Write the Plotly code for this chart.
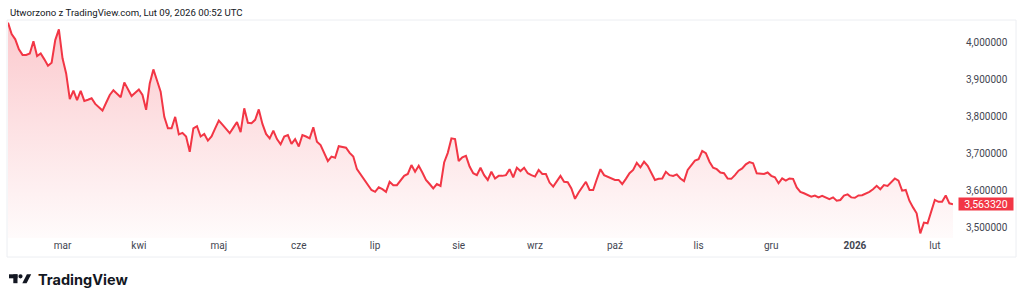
import pandas as pd
import plotly.graph_objects as go

# ---- data ----
start_date = "2025-02-10"
end_date = "2026-02-09"
values = [
    4.053, 4.022, 4.008, 3.981, 3.966, 3.966, 3.970, 4.003, 3.963, 3.970,
    3.954, 3.937, 3.945, 4.006, 4.035, 3.957, 3.916, 3.847, 3.870, 3.844,
    3.869, 3.842, 3.845, 3.849, 3.834, 3.826, 3.816, 3.837, 3.858, 3.871,
    3.862, 3.852, 3.892, 3.873, 3.855, 3.864, 3.873, 3.858, 3.818, 3.889,
    3.927, 3.897, 3.867, 3.799, 3.768, 3.768, 3.799, 3.752, 3.756, 3.746,
    3.705, 3.768, 3.774, 3.746, 3.753, 3.735, 3.746, 3.768, 3.789, 3.778,
    3.767, 3.755, 3.770, 3.785, 3.758, 3.822, 3.783, 3.782, 3.791, 3.819,
    3.780, 3.753, 3.741, 3.762, 3.739, 3.725, 3.746, 3.750, 3.726, 3.739,
    3.719, 3.750, 3.746, 3.741, 3.771, 3.732, 3.723, 3.701, 3.680, 3.692,
    3.689, 3.720, 3.718, 3.716, 3.702, 3.692, 3.658, 3.644, 3.627, 3.615,
    3.602, 3.597, 3.609, 3.604, 3.597, 3.624, 3.615, 3.615, 3.629, 3.640,
    3.645, 3.669, 3.651, 3.667, 3.649, 3.629, 3.618, 3.606, 3.618, 3.613,
    3.676, 3.702, 3.741, 3.739, 3.680, 3.690, 3.694, 3.665, 3.647, 3.642,
    3.662, 3.642, 3.629, 3.651, 3.633, 3.640, 3.640, 3.642, 3.658, 3.636,
    3.662, 3.653, 3.662, 3.647, 3.642, 3.638, 3.656, 3.645, 3.645, 3.622,
    3.611, 3.624, 3.640, 3.624, 3.623, 3.606, 3.578, 3.595, 3.611, 3.624,
    3.602, 3.602, 3.631, 3.658, 3.642, 3.638, 3.632, 3.629, 3.629, 3.618,
    3.632, 3.647, 3.656, 3.675, 3.663, 3.678, 3.667, 3.650, 3.629, 3.632,
    3.633, 3.651, 3.642, 3.640, 3.644, 3.633, 3.626, 3.656, 3.667, 3.681,
    3.685, 3.707, 3.701, 3.678, 3.662, 3.658, 3.649, 3.647, 3.633, 3.632,
    3.642, 3.654, 3.660, 3.671, 3.677, 3.674, 3.647, 3.647, 3.645, 3.649,
    3.640, 3.636, 3.620, 3.633, 3.627, 3.633, 3.632, 3.609, 3.597, 3.593,
    3.588, 3.584, 3.587, 3.582, 3.586, 3.581, 3.577, 3.582, 3.573, 3.575,
    3.587, 3.590, 3.582, 3.581, 3.587, 3.588, 3.592, 3.597, 3.604, 3.613,
    3.604, 3.615, 3.613, 3.624, 3.633, 3.627, 3.600, 3.602, 3.573, 3.555,
    3.539, 3.485, 3.514, 3.512, 3.546, 3.575, 3.570, 3.570, 3.587, 3.566,
    3.56332,
]
y_ticks = [3.5, 3.6, 3.7, 3.8, 3.9, 4.0]
month_labels = {1: None, 2: "lut", 3: "mar", 4: "kwi", 5: "maj", 6: "cze",
                7: "lip", 8: "sie", 9: "wrz", 10: "paź", 11: "lis", 12: "gru"}
title_text = "Utworzono z TradingView.com, Lut 09, 2026 00:52 UTC"
brand_text = "TradingView"

dates = pd.bdate_range(start_date, end_date)
s = pd.Series(values, index=dates)

# first trading day of each month (after the first month)
firsts = s.groupby([s.index.year, s.index.month]).head(1).index[1:]
tickvals = list(firsts)
ticktext = [("<b>%d</b>" % d.year) if d.month == 1 else month_labels[d.month] for d in firsts]

RED = "#f23645"
W, H = 1024, 302
ML, MR, MT, MB = 8, 71, 20, 64
PW, PH = W - ML - MR, H - MT - MB
Y_LO, Y_HI = 3.4725, 4.0601


def px(x):
    return (x - ML) / PW


def py(y):
    return (H - MB - y) / PH


fig = go.Figure()
fig.add_trace(go.Scatter(
    x=s.index, y=s.values, mode="lines",
    line=dict(color=RED, width=2),
    fill="tozeroy",
    fillgradient=dict(type="vertical", start=Y_LO, stop=Y_HI,
                      colorscale=[[0, "rgba(242,54,69,0.02)"], [1, "rgba(242,54,69,0.27)"]]),
    hoverinfo="skip", showlegend=False,
))

shapes = [
    # chart frame
    dict(type="rect", xref="paper", yref="paper", x0=px(7), x1=px(1016), y0=py(257), y1=py(20),
         line=dict(color="#eceef2", width=1), layer="below"),
]
# TradingView logo icon
ink = "#131722"
shapes += [
    dict(type="rect", xref="paper", yref="paper", x0=px(9), x1=px(17.5), y0=py(278.3), y1=py(274.3),
         line=dict(width=0), fillcolor=ink),
    dict(type="rect", xref="paper", yref="paper", x0=px(13.3), x1=px(17.5), y0=py(283.2), y1=py(274.3),
         line=dict(width=0), fillcolor=ink),
    dict(type="circle", xref="paper", yref="paper", x0=px(18.4), x1=px(22.6), y0=py(278.4), y1=py(274.2),
         line=dict(width=0), fillcolor=ink),
    dict(type="path", xref="paper", yref="paper",
         path="M %f %f L %f %f L %f %f L %f %f Z" % (px(22.3), py(283.2), px(26.6), py(283.2),
                                                     px(31.2), py(274.3), px(26.9), py(274.3)),
         line=dict(width=0), fillcolor=ink),
]

last_txt = ("%.6f" % values[-1]).replace(".", ",")
annotations = [
    dict(text=title_text, xref="paper", yref="paper", x=px(8), y=py(12), xanchor="left",
         yanchor="middle", showarrow=False, font=dict(size=9.6, color="#131722")),
    dict(text="<b>%s</b>" % brand_text, xref="paper", yref="paper", x=px(35.5), y=py(279.5),
         xanchor="left", yanchor="middle", showarrow=False,
         font=dict(size=14.5, color=ink, family="Inter")),
    dict(text=last_txt, xref="paper", yref="y", x=1, y=values[-1], xanchor="left",
         yanchor="middle", xshift=5, showarrow=False, bgcolor=RED, width=52, height=10,
         borderpad=1, font=dict(size=10.5, color="white")),
]

fig.update_layout(
    width=W, height=H, margin=dict(l=ML, r=MR, t=MT, b=MB),
    paper_bgcolor="white", plot_bgcolor="white",
    separators=", ",
    font=dict(family="Roboto, Arial, sans-serif", size=10, color="#434651"),
    shapes=shapes, annotations=annotations,
    xaxis=dict(type="date", range=[s.index[0], s.index[-1]],
               rangebreaks=[dict(bounds=["sat", "mon"])],
               tickmode="array", tickvals=tickvals, ticktext=ticktext,
               showgrid=False, zeroline=False, showline=False, ticks="",
               tickfont=dict(size=10, color="#434651")),
    yaxis=dict(side="right", range=[Y_LO, Y_HI], tickmode="array", tickvals=y_ticks,
               tickformat=".6f", showgrid=False, zeroline=False, showline=False,
               ticks="", ticklabelstandoff=12, tickfont=dict(size=10, color="#434651")),
)

fig.write_html("out.html")
